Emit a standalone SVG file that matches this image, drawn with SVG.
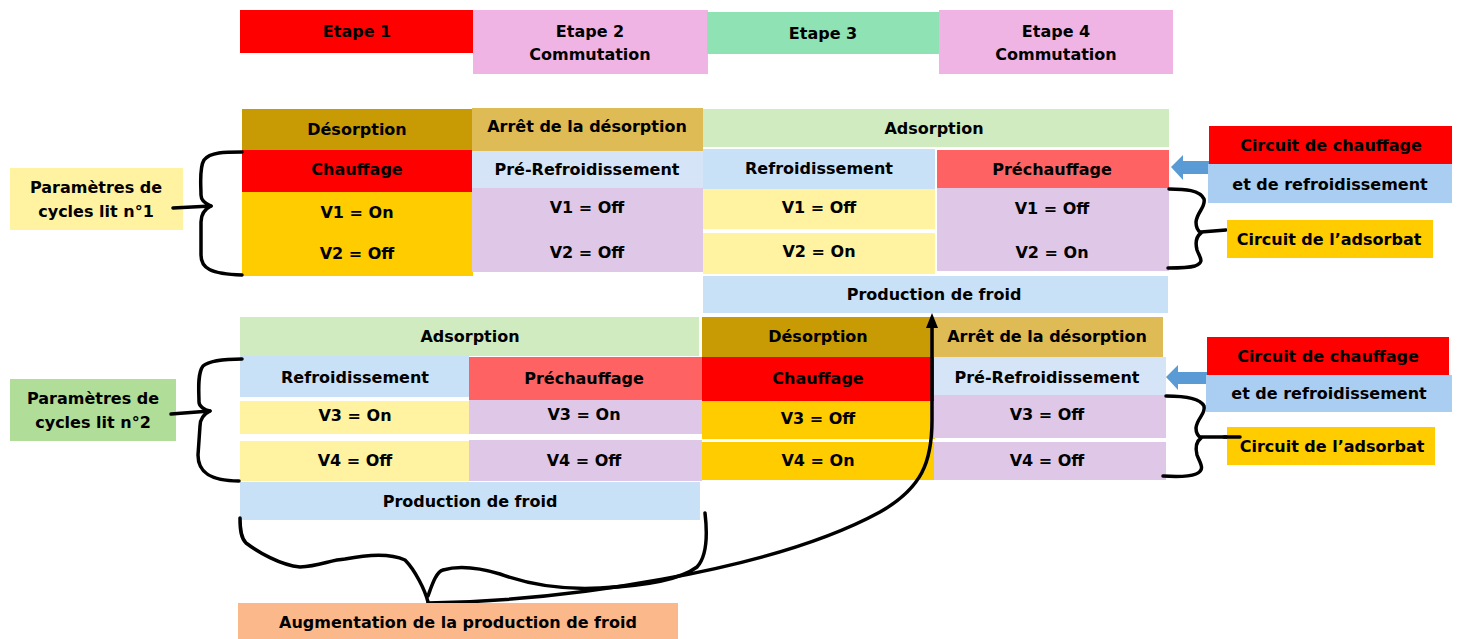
<svg xmlns="http://www.w3.org/2000/svg" width="1461" height="639" viewBox="0 0 1461 639">
<style>
.t{font-family:"DejaVu Sans","Liberation Sans",Arial,sans-serif;font-weight:bold;font-size:16px;text-anchor:middle;dominant-baseline:central;fill:#000}
.br{fill:none;stroke:#000;stroke-width:3.5;stroke-linecap:round;stroke-linejoin:round}
.red{fill:#FF0000}.pink{fill:#F0B4E4}.grn{fill:#8EE2B4}
.dgold{fill:#C89B05}.lgold{fill:#DEBB55}.pref{fill:#D6E4F8}.lav{fill:#DFC8E7}
.gold{fill:#FFCC00}.lyel{fill:#FFF2A1}.lblue{fill:#C8E1F7}.prech{fill:#FF6262}
.ads{fill:#D0EBC0}.cblue{fill:#A9CEF2}.lgrn{fill:#B0DD97}.peach{fill:#FBB98B}
</style>
<rect width="1461" height="639" fill="#fff"/>

<g id="etape1"><rect class="red" x="240" y="10" width="234" height="43"/><text class="t" x="357" y="31">Etape 1</text></g>
<g id="etape2"><rect class="pink" x="473" y="10" width="235" height="64"/><text class="t" x="590" y="31">Etape 2</text><text class="t" x="590" y="54">Commutation</text></g>
<g id="etape3"><rect class="grn" x="707" y="12" width="233" height="42"/><text class="t" x="823" y="33">Etape 3</text></g>
<g id="etape4"><rect class="pink" x="939" y="10" width="234" height="64"/><text class="t" x="1056" y="31">Etape 4</text><text class="t" x="1056" y="54">Commutation</text></g>

<g id="l1-desorption"><rect class="dgold" x="242" y="109" width="231" height="41"/><text class="t" x="357" y="129">Désorption</text></g>
<g id="l1-chauffage"><rect class="red" x="242" y="150" width="231" height="42"/><text class="t" x="357" y="169">Chauffage</text></g>
<g id="l1-v-desorption"><rect class="gold" x="242" y="192" width="231" height="84"/><text class="t" x="357" y="212">V1 = On</text><text class="t" x="357" y="253">V2 = Off</text></g>
<g id="l1-arret"><rect class="lgold" x="472" y="108" width="231" height="43"/><text class="t" x="587" y="126">Arrêt de la désorption</text></g>
<g id="l1-prerefroid"><rect class="pref" x="472" y="151" width="231" height="37"/><text class="t" x="587" y="169">Pré-Refroidissement</text></g>
<g id="l1-v-prerefroid"><rect class="lav" x="472" y="188" width="231" height="84"/><text class="t" x="587" y="207">V1 = Off</text><text class="t" x="587" y="252">V2 = Off</text></g>
<g id="l1-adsorption"><rect class="ads" x="703" y="109" width="466" height="38"/><text class="t" x="934" y="128">Adsorption</text></g>
<g id="l1-refroid"><rect class="lblue" x="703" y="149" width="232" height="40"/><text class="t" x="819" y="168">Refroidissement</text></g>
<g id="l1-v1-refroid"><rect class="lyel" x="703" y="189" width="232" height="40"/><text class="t" x="819" y="207">V1 = Off</text></g>
<g id="l1-v2-refroid"><rect class="lyel" x="703" y="233" width="232" height="41"/><text class="t" x="819" y="251">V2 = On</text></g>
<g id="l1-prechauffage"><rect class="prech" x="937" y="150" width="232" height="38"/><text class="t" x="1052" y="169">Préchauffage</text></g>
<g id="l1-v-prechauffage"><rect class="lav" x="937" y="188" width="232" height="83"/><text class="t" x="1052" y="208">V1 = Off</text><text class="t" x="1052" y="252">V2 = On</text></g>
<g id="l1-production"><rect class="lblue" x="703" y="276" width="465" height="37"/><text class="t" x="934" y="294">Production de froid</text></g>

<g id="l2-adsorption"><rect class="ads" x="240" y="317" width="459" height="39"/><text class="t" x="470" y="336">Adsorption</text></g>
<g id="l2-refroid"><rect class="lblue" x="240" y="356" width="229" height="41"/><text class="t" x="355" y="377">Refroidissement</text></g>
<g id="l2-prechauffage"><rect class="prech" x="469" y="357" width="233" height="43"/><text class="t" x="584" y="378">Préchauffage</text></g>
<g id="l2-v3-refroid"><rect class="lyel" x="240" y="401" width="229" height="33"/><text class="t" x="355" y="415">V3 = On</text></g>
<g id="l2-v3-prechauffage"><rect class="lav" x="469" y="400" width="233" height="34"/><text class="t" x="584" y="414">V3 = On</text></g>
<g id="l2-v4-refroid"><rect class="lyel" x="240" y="441" width="229" height="40"/><text class="t" x="355" y="460">V4 = Off</text></g>
<g id="l2-v4-prechauffage"><rect class="lav" x="469" y="440" width="233" height="41"/><text class="t" x="584" y="460">V4 = Off</text></g>
<g id="l2-production"><rect class="lblue" x="240" y="482" width="460" height="38"/><text class="t" x="470" y="501">Production de froid</text></g>
<g id="l2-desorption"><rect class="dgold" x="702" y="317" width="233" height="40"/><text class="t" x="818" y="336">Désorption</text></g>
<g id="l2-chauffage"><rect class="red" x="702" y="357" width="233" height="44"/><text class="t" x="818" y="378">Chauffage</text></g>
<g id="l2-v3-desorption"><rect class="gold" x="702" y="401" width="233" height="38"/><text class="t" x="818" y="418">V3 = Off</text></g>
<g id="l2-v4-desorption"><rect class="gold" x="702" y="442" width="233" height="38"/><text class="t" x="818" y="460">V4 = On</text></g>
<g id="l2-arret"><rect class="lgold" x="934" y="317" width="229" height="40"/><text class="t" x="1047" y="336">Arrêt de la désorption</text></g>
<g id="l2-prerefroid"><rect class="pref" x="934" y="357" width="232" height="38"/><text class="t" x="1047" y="377">Pré-Refroidissement</text></g>
<g id="l2-v3-prerefroid"><rect class="lav" x="934" y="395" width="232" height="43"/><text class="t" x="1047" y="414">V3 = Off</text></g>
<g id="l2-v4-prerefroid"><rect class="lav" x="934" y="442" width="232" height="38"/><text class="t" x="1047" y="460">V4 = Off</text></g>

<g id="param-lit1"><rect class="lyel" x="10" y="168" width="173" height="62"/><text class="t" x="96" y="187">Paramètres de</text><text class="t" x="96" y="211">cycles lit n°1</text></g>
<g id="param-lit2"><rect class="lgrn" x="10" y="379" width="166" height="62"/><text class="t" x="93" y="398">Paramètres de</text><text class="t" x="93" y="422">cycles lit n°2</text></g>

<g id="connectors">
<polygon fill="#5B9BD5" points="1171,167 1183,155 1183,161 1210,161 1210,174 1183,174 1183,180"/>
<polygon fill="#5B9BD5" points="1166,377 1178,365 1178,372 1208,372 1208,384 1178,384 1178,390"/>
<path class="br" d="M242,152 C225,152 210,152 204,160 C199,168 201,185 201,195 C201,201 206,204 211,206 C205,209 201,213 201,222 L201,255 C201,268 210,274 242,275"/>
<path class="br" d="M211,206 L173,208"/>
<path class="br" d="M242,359 C225,359 210,360 203,366 C197,374 199,392 199,402 C199,406 204,410 210,411 C204,414 200,418 200,426 L198,455 C198,470 207,481 239,481"/>
<path class="br" d="M210,411 L171,414"/>
<path class="br" d="M1169,189 C1185,189 1200,190 1204,199 C1206,207 1197,212 1196,222 C1196,228 1198,231 1201,233 C1197,236 1195,242 1197,250 C1200,258 1205,262 1195,266 C1188,268 1178,268 1168,268"/>
<path class="br" d="M1201,232 L1226,230"/>
<path class="br" d="M1166,396 C1185,396 1200,398 1204,406 C1206,414 1197,418 1196,428 C1196,433 1198,436 1201,438 C1197,441 1195,447 1197,455 C1200,463 1206,470 1196,474 C1188,477 1178,477 1163,476"/>
<path class="br" d="M1201,437 L1240,437"/>
<path class="br" d="M240,518 C240,530 241,538 246,543 C258,552 280,565 300,567 C320,566 330,560 345,559 C365,555 390,553 405,560 C415,570 425,590 428,602 M428,596 C432,585 436,572 443,570 C460,565 480,568 500,574 C530,585 560,590 600,588 C640,586 680,580 697,567 C708,555 707,530 705,513"/>
<path class="br" d="M428,603 C560,601 770,572 880,512 C922,488 932,462 932,420 L932,326"/>
<polygon fill="#000" points="932,313 926,328 938,328"/>
</g>

<g id="circuit-chauffage-1"><rect class="red" x="1209" y="126" width="243" height="38"/><text class="t" x="1331" y="145">Circuit de chauffage</text></g>
<g id="circuit-refroid-1"><rect class="cblue" x="1208" y="164" width="244" height="39"/><text class="t" x="1330" y="184">et de refroidissement</text></g>
<g id="circuit-adsorbat-1"><rect class="gold" x="1227" y="220" width="206" height="38"/><text class="t" x="1329" y="239">Circuit de l’adsorbat</text></g>
<g id="circuit-chauffage-2"><rect class="red" x="1207" y="337" width="242" height="38"/><text class="t" x="1328" y="356">Circuit de chauffage</text></g>
<g id="circuit-refroid-2"><rect class="cblue" x="1206" y="375" width="246" height="37"/><text class="t" x="1329" y="393">et de refroidissement</text></g>
<g id="circuit-adsorbat-2"><rect class="gold" x="1227" y="427" width="208" height="38"/><text class="t" x="1332" y="446">Circuit de l’adsorbat</text></g>
<path class="br" d="M1224,437 L1240,437"/>
<g id="augmentation"><rect class="peach" x="238" y="603" width="440" height="36"/><text class="t" x="458" y="622">Augmentation de la production de froid</text></g>
</svg>
